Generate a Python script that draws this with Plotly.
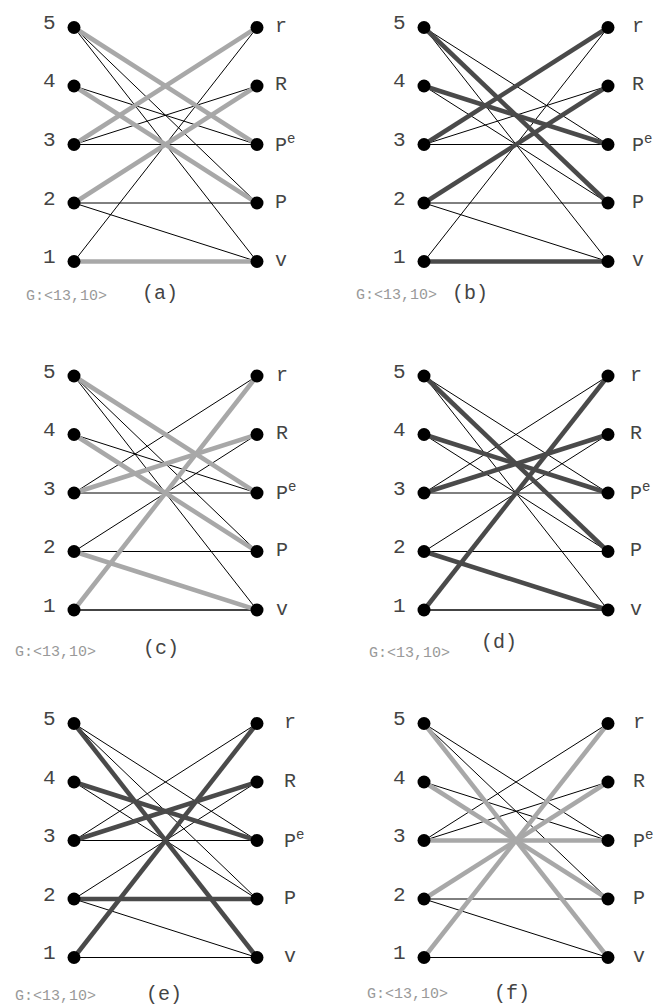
import plotly.graph_objects as go

# Bipartite graph G:<13,10> with five different maximum matchings highlighted
left_labels = ["1", "2", "3", "4", "5"]
right_keys = ["v", "P", "Pe", "R", "r"]
right_text = {"v": "v", "P": "P", "Pe": "P<sup>e</sup>", "R": "R", "r": "r"}

edges = [
    (5, "Pe"), (5, "P"), (5, "v"),
    (4, "Pe"), (4, "P"),
    (3, "r"), (3, "R"), (3, "Pe"),
    (2, "R"), (2, "P"), (2, "v"),
    (1, "r"), (1, "v"),
]

panel_tags = ["(a)", "(b)", "(c)", "(d)", "(e)", "(f)"]
graph_caption = "G:<13,10>"

matchings = {
    "(a)": [(5, "Pe"), (4, "P"), (3, "r"), (2, "R"), (1, "v")],
    "(b)": [(5, "P"), (4, "Pe"), (3, "r"), (2, "R"), (1, "v")],
    "(c)": [(5, "Pe"), (4, "P"), (3, "R"), (2, "v"), (1, "r")],
    "(d)": [(5, "P"), (4, "Pe"), (3, "R"), (2, "v"), (1, "r")],
    "(e)": [(5, "v"), (4, "Pe"), (3, "R"), (2, "P"), (1, "r")],
    "(f)": [(5, "v"), (4, "P"), (3, "Pe"), (2, "R"), (1, "r")],
}
matching_shade = {"(a)": "light", "(b)": "dark", "(c)": "light",
                  "(d)": "dark", "(e)": "dark", "(f)": "light"}
# edges drawn slightly heavier than the plain ones
emphasised = {"(c)": [(1, "v")], "(d)": [(1, "v")]}

# ---- layout constants (pixels) ----
W, H = 663, 1006
col_left = [74, 424]          # x of left vertex column
col_unit = [183, 184]         # distance left->right column
row_top = [27.5, 376, 723.5]  # y of vertex "5"
row_unit = 58.5               # vertical spacing of vertices
XR = (-0.25, 1.25)
YR = (0.2, 5.3)

# per-panel text placement in axis units
right_label_dx = {"(a)": 0.085, "(b)": 0.12, "(c)": 0.095, "(d)": 0.11, "(e)": 0.135, "(f)": 0.125}
caption_pos = {"(a)": (-0.04, 0.40), "(b)": (-0.15, 0.42), "(c)": (-0.10, 0.28),
               "(d)": (-0.08, 0.26), "(e)": (-0.10, 0.33), "(f)": (-0.09, 0.36)}
tag_pos = {"(a)": (0.47, 0.46), "(b)": (0.25, 0.46), "(c)": (0.475, 0.34),
           "(d)": (0.41, 0.45), "(e)": (0.49, 0.37), "(f)": (0.48, 0.39)}

LIGHT = "#a8a8a8"
DARK = "#4a4a4a"
FONT = "Liberation Mono"
TEXT = "#444444"

ry = {k: i + 1 for i, k in enumerate(right_keys)}

fig = go.Figure()
layout_axes = {}
annotations = []

for p, tag in enumerate(panel_tags):
    col, row = p % 2, p // 2
    n = p + 1
    xa = "x" if n == 1 else f"x{n}"
    ya = "y" if n == 1 else f"y{n}"
    xkey = "xaxis" if n == 1 else f"xaxis{n}"
    ykey = "yaxis" if n == 1 else f"yaxis{n}"

    u = col_unit[col]
    x0 = col_left[col] + XR[0] * u
    x1 = col_left[col] + XR[1] * u
    y_top = row_top[row] - (YR[1] - 5) * row_unit
    y_bot = row_top[row] + (5 - YR[0]) * row_unit
    layout_axes[xkey] = dict(domain=[x0 / W, x1 / W], range=list(XR), visible=False,
                             anchor=ya, fixedrange=True)
    layout_axes[ykey] = dict(domain=[1 - y_bot / H, 1 - y_top / H], range=list(YR),
                             visible=False, anchor=xa, fixedrange=True)

    match = set(matchings[tag])
    heavy = set(emphasised.get(tag, []))

    # plain edges
    xs, ys = [], []
    for (l, r) in edges:
        if (l, r) in match or (l, r) in heavy:
            continue
        xs += [0, 1, None]
        ys += [l, ry[r], None]
    fig.add_trace(go.Scatter(x=xs, y=ys, mode="lines", xaxis=xa, yaxis=ya,
                             line=dict(color="black", width=1), hoverinfo="skip",
                             showlegend=False))
    if heavy:
        xs, ys = [], []
        for (l, r) in heavy:
            xs += [0, 1, None]
            ys += [l, ry[r], None]
        fig.add_trace(go.Scatter(x=xs, y=ys, mode="lines", xaxis=xa, yaxis=ya,
                                 line=dict(color="#444444", width=2.2), hoverinfo="skip",
                                 showlegend=False))
    # matching edges
    xs, ys = [], []
    for (l, r) in matchings[tag]:
        xs += [0, 1, None]
        ys += [l, ry[r], None]
    fig.add_trace(go.Scatter(x=xs, y=ys, mode="lines", xaxis=xa, yaxis=ya,
                             line=dict(color=LIGHT if matching_shade[tag] == "light" else DARK,
                                       width=4.5),
                             hoverinfo="skip", showlegend=False))
    # vertices
    fig.add_trace(go.Scatter(x=[0] * 5 + [1] * 5,
                             y=[1, 2, 3, 4, 5] + [ry[k] for k in right_keys],
                             mode="markers", xaxis=xa, yaxis=ya,
                             marker=dict(color="black", size=13, line=dict(width=0)),
                             hoverinfo="skip", showlegend=False))
    # left vertex labels
    for i, lab in enumerate(left_labels):
        annotations.append(dict(x=-0.135, y=i + 1, xref=xa, yref=ya, text=lab,
                                showarrow=False, xanchor="center", yanchor="middle",
                                yshift=4,
                                font=dict(family=FONT, size=21, color=TEXT)))
    # right vertex labels
    dx = right_label_dx[tag]
    for k in right_keys:
        annotations.append(dict(x=1 + dx, y=ry[k], xref=xa, yref=ya, text=right_text[k],
                                showarrow=False, xanchor="left", yanchor="middle",
                                yshift=1,
                                font=dict(family=FONT, size=20, color=TEXT)))
    cx, cy = caption_pos[tag]
    annotations.append(dict(x=cx, y=cy, xref=xa, yref=ya, text=graph_caption,
                            showarrow=False, xanchor="center", yanchor="middle",
                            font=dict(family=FONT, size=15, color="#999999")))
    tx, ty = tag_pos[tag]
    annotations.append(dict(x=tx, y=ty, xref=xa, yref=ya, text=tag,
                            showarrow=False, xanchor="center", yanchor="middle",
                            font=dict(family=FONT, size=20, color=TEXT)))

fig.update_layout(width=W, height=H, margin=dict(l=0, r=0, t=0, b=0),
                  paper_bgcolor="white", plot_bgcolor="white",
                  annotations=annotations, **layout_axes)

fig.write_html("out.html")
